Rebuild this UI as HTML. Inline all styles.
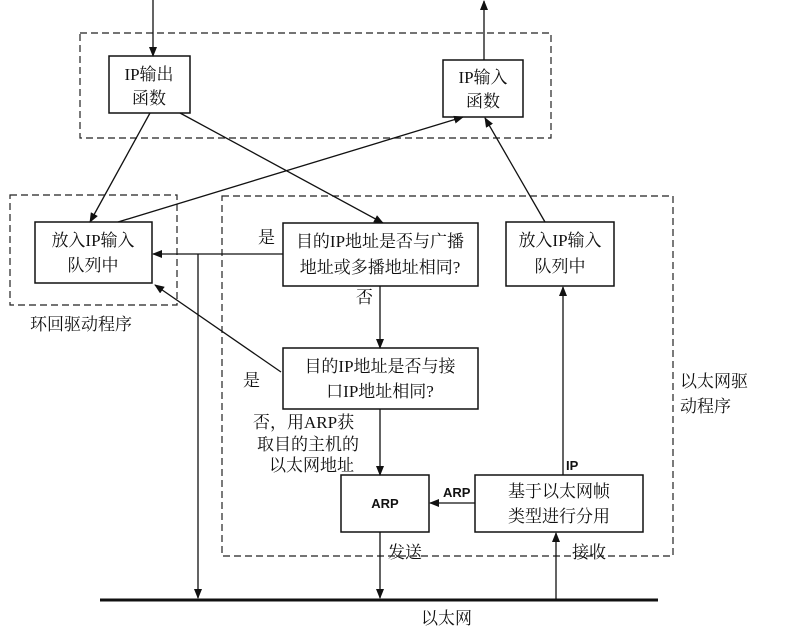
<!DOCTYPE html>
<html><head><meta charset="utf-8"><style>
html,body{margin:0;padding:0;background:#fff;}
svg{display:block;}
text{font-family:"Liberation Serif","Noto Serif CJK SC","Noto Sans CJK SC",serif;font-size:17px;fill:#111;}
.b{font-family:"Liberation Sans","Noto Sans CJK SC",sans-serif;font-weight:bold;font-size:13px;}
</style></head><body>
<svg width="790" height="636" viewBox="0 0 790 636" xmlns="http://www.w3.org/2000/svg">
<defs><marker id="a" markerWidth="10" markerHeight="8" refX="9" refY="4" orient="auto" markerUnits="userSpaceOnUse"><path d="M0,0 L10,4 L0,8 z" fill="#111"/></marker></defs>
<g fill="none" stroke="#222" stroke-width="1.2" stroke-dasharray="7,4">
<rect x="80" y="33" width="471" height="105"/>
<rect x="10" y="195" width="167" height="110"/>
<rect x="222" y="196" width="451" height="360"/>
</g>
<g fill="#fff" stroke="#111" stroke-width="1.5">
<rect x="109" y="56" width="81" height="57"/>
<rect x="443" y="60" width="80" height="57"/>
<rect x="35" y="222" width="117" height="61"/>
<rect x="283" y="223" width="195" height="63"/>
<rect x="283" y="348" width="195" height="61"/>
<rect x="506" y="222" width="108" height="64"/>
<rect x="341" y="475" width="88" height="57"/>
<rect x="475" y="475" width="168" height="57"/>
</g>
<g stroke="#111" stroke-width="1.3" fill="none" marker-end="url(#a)">
<line x1="153" y1="0" x2="153" y2="56"/>
<line x1="484" y1="60" x2="484" y2="1"/>
<line x1="150" y1="113" x2="90" y2="222"/>
<line x1="180" y1="113" x2="383" y2="223"/>
<line x1="118" y1="222" x2="463" y2="117"/>
<line x1="283" y1="254" x2="153" y2="254"/>
<line x1="380" y1="286" x2="380" y2="348"/>
<line x1="281" y1="372" x2="155" y2="285"/>
<line x1="198" y1="254" x2="198" y2="598"/>
<line x1="380" y1="409" x2="380" y2="475"/>
<line x1="475" y1="503" x2="430" y2="503"/>
<line x1="380" y1="532" x2="380" y2="598"/>
<line x1="556" y1="600" x2="556" y2="533"/>
<line x1="563" y1="475" x2="563" y2="287"/>
<line x1="545" y1="222" x2="485" y2="118"/>
</g>
<line x1="100" y1="600" x2="658" y2="600" stroke="#111" stroke-width="3"/>
<text x="149" y="80" text-anchor="middle">IP输出</text>
<text x="149" y="104" text-anchor="middle">函数</text>
<text x="483" y="83" text-anchor="middle">IP输入</text>
<text x="483" y="107" text-anchor="middle">函数</text>
<text x="93" y="246" text-anchor="middle">放入IP输入</text>
<text x="93" y="271" text-anchor="middle">队列中</text>
<text x="380" y="247" text-anchor="middle">目的IP地址是否与广播</text>
<text x="380" y="273" text-anchor="middle">地址或多播地址相同?</text>
<text x="380" y="372" text-anchor="middle">目的IP地址是否与接</text>
<text x="380" y="397" text-anchor="middle">口IP地址相同?</text>
<text x="560" y="246" text-anchor="middle">放入IP输入</text>
<text x="560" y="272" text-anchor="middle">队列中</text>
<text x="385" y="508" text-anchor="middle" class="b">ARP</text>
<text x="559" y="497" text-anchor="middle">基于以太网帧</text>
<text x="559" y="522" text-anchor="middle">类型进行分用</text>
<text x="30" y="330" font-size="16">环回驱动程序</text>
<text x="258" y="243" font-size="16">是</text>
<text x="356" y="303" font-size="16">否</text>
<text x="243" y="386" font-size="16">是</text>
<text x="253" y="428" font-size="16">否，用ARP获</text>
<text x="257" y="450" font-size="16">取目的主机的</text>
<text x="269" y="471" font-size="16">以太网地址</text>
<text x="443" y="497" class="b">ARP</text>
<text x="566" y="470" class="b">IP</text>
<text x="388" y="558" font-size="16">发送</text>
<text x="572" y="558" font-size="16">接收</text>
<text x="680" y="387" font-size="16">以太网驱</text>
<text x="680" y="412" font-size="16">动程序</text>
<text x="421" y="624" font-size="16">以太网</text>
</svg>
</body></html>
